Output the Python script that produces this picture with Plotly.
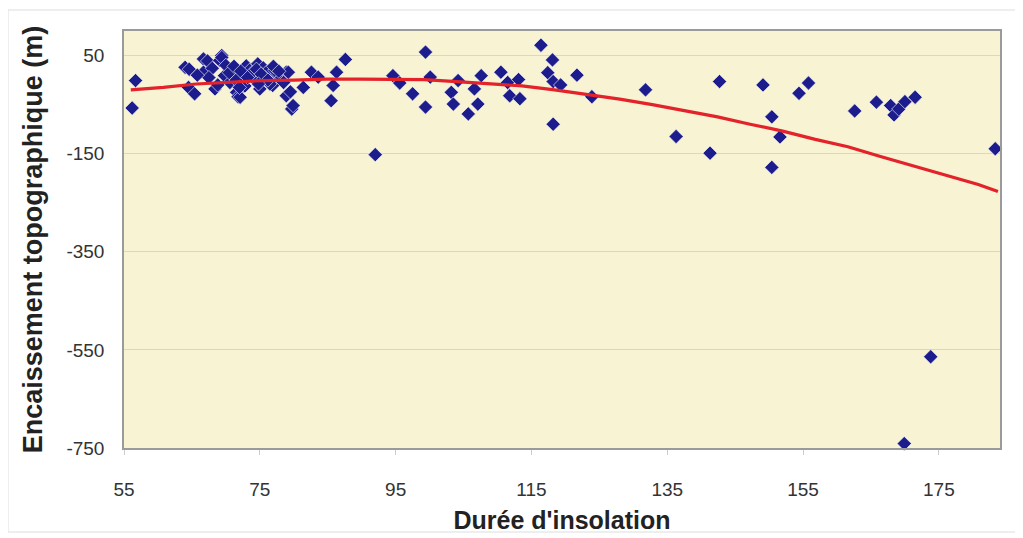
import plotly.graph_objects as go

# Scatter observations (Durée d'insolation, Encaissement topographique)
obs_x = [56.2, 56.7, 64.0, 64.5, 64.6, 65.4, 66.7, 66.7, 67.3, 68.0, 68.4, 69.1, 69.4, 69.4,
         69.8, 70.6, 70.8, 71.6, 71.8, 72.1, 72.5, 73.0, 73.5, 74.0, 74.7, 75.0, 75.5, 76.0,
         76.9, 77.5, 78.2, 78.9, 78.9, 79.2, 79.5, 79.7, 79.9, 81.4, 82.6, 83.6, 85.5, 85.8,
         86.3, 87.6, 92.0, 94.6, 95.6, 97.5, 99.4, 99.4, 100.1, 103.2, 103.5, 104.2, 105.7,
         106.6, 107.1, 107.6, 110.5, 111.5, 111.8, 113.1, 113.3, 116.4, 117.4, 118.1, 118.2,
         118.2, 119.3, 121.7, 123.9, 131.8, 136.3, 141.3, 142.7, 149.1, 150.4, 150.4, 151.6,
         154.4, 155.8, 162.6, 165.8, 167.9, 168.4, 169.1, 170.0, 171.5, 173.8, 169.9, 183.3,
         67.5, 70.0, 71.0, 72.8, 74.2, 75.8, 76.5, 77.2, 73.8, 71.5, 68.8, 65.8,
         70.5, 71.2, 72.2, 73.2, 74.5, 75.2, 76.2, 77.0, 77.8, 72.0, 74.8, 78.5]
obs_y = [-57, -1, 26, -15, 22, -28, 43, 16, 39, 24, -18, 40, 50, 46,
         9, -5, 23, -25, -34, -35, -5, 29, 20, 9, 33, -18, 25, 16,
         -11, 12, 6, 16, -32, 16, -24, -59, -52, -15, 16, 6, -42, -11,
         16, 42, -152, 9, -6, -28, 57, -55, 6, -25, -49, -1, -69,
         -18, -49, 9, 16, -5, -32, 1, -38, 71, 15, 41, -3,
         -90, -10, 10, -34, -20, -115, -149, -3, -10, -75, -178, -116,
         -27, -6, -63, -45, -52, -71, -59, -44, -35, -564, -741, -140,
         5, 30, 12, -12, 2, 5, -8, 20, 14, 0, -10, 10,
         15, 28, 18, 5, 22, 12, 0, 28, 18, -15, -8, -5]

# Polynomial trend line
trend_x = [56.0, 60.8, 65.6, 70.4, 75.2, 80.0, 84.8, 89.6, 94.4, 99.2, 104.0, 108.8, 113.6,
           118.4, 123.2, 128.0, 132.8, 137.6, 142.4, 147.2, 152.0, 156.8, 161.6, 166.4,
           171.2, 176.0, 180.8, 183.7]
trend_y = [-20, -15, -8, -4, -1, 0, 2, 2, 2, 1, -3, -7, -12,
           -20, -29, -39, -50, -62, -75, -90, -104, -121, -136, -156,
           -175, -194, -213, -227]

x_ticks = [55, 75, 95, 115, 135, 155, 175]
y_ticks = [-750, -550, -350, -150, 50]

fig = go.Figure()
fig.add_trace(go.Scatter(
    x=obs_x, y=obs_y, mode="markers",
    marker=dict(symbol="diamond", size=11, color="#1c1c8c",
                line=dict(width=0.6, color="#ffffff")),
    showlegend=False, cliponaxis=False))
fig.add_trace(go.Scatter(
    x=trend_x, y=trend_y, mode="lines",
    line=dict(color="#e3222a", width=3.2),
    showlegend=False))

# page body has an 8px margin, so the figure is placed 8px right/down
OFF = 8
L, T = 124 - OFF, 31 - OFF
pw, ph = 876, 417
R, B = 1023 - L - pw, 538 - T - ph

fig.update_layout(
    width=1023, height=538,
    margin=dict(l=L, r=R, t=T, b=B, autoexpand=False),
    paper_bgcolor="#ffffff",
    plot_bgcolor="#f8f3d3",
    font=dict(family="Liberation Sans, Arial", color="#333333"),
    shapes=[dict(type="rect", xref="paper", yref="paper",
                 x0=(8 - OFF - L) / pw, x1=(1016 - OFF - L) / pw,
                 y0=-(532 - OFF - (T + ph)) / ph, y1=1 + (T - (10 - OFF)) / ph,
                 line=dict(color="#dddddd", width=1), fillcolor="rgba(0,0,0,0)", layer="below")],
)
fig.update_xaxes(
    range=[55, 184], tickvals=x_ticks, ticktext=[str(v) for v in x_ticks],
    showgrid=False, zeroline=False, automargin=False,
    showline=True, linecolor="#9a9a9a", linewidth=1.5, mirror=True,
    ticks="outside", ticklen=5, tickcolor="#cccccc",
    ticklabelstandoff=18,
    tickfont=dict(size=19, color="#333333"),
    title=dict(text="<b>Durée d'insolation</b>", standoff=13,
               font=dict(size=25, color="#222222", family="Liberation Sans, Arial")),
)
fig.update_yaxes(
    range=[-750, 100], tickvals=y_ticks, ticktext=[str(v) for v in y_ticks],
    showgrid=True, gridcolor="#dcd8bf", gridwidth=1, zeroline=False, automargin=False,
    showline=True, linecolor="#9a9a9a", linewidth=1.5, mirror=True,
    ticks="", ticklabelstandoff=14,
    tickfont=dict(size=19, color="#333333"),
    title=dict(text="<b>Encaissement topographique (m)</b>", standoff=16,
               font=dict(size=27, color="#222222", family="Liberation Sans, Arial")),
)

fig.write_html("out.html")
